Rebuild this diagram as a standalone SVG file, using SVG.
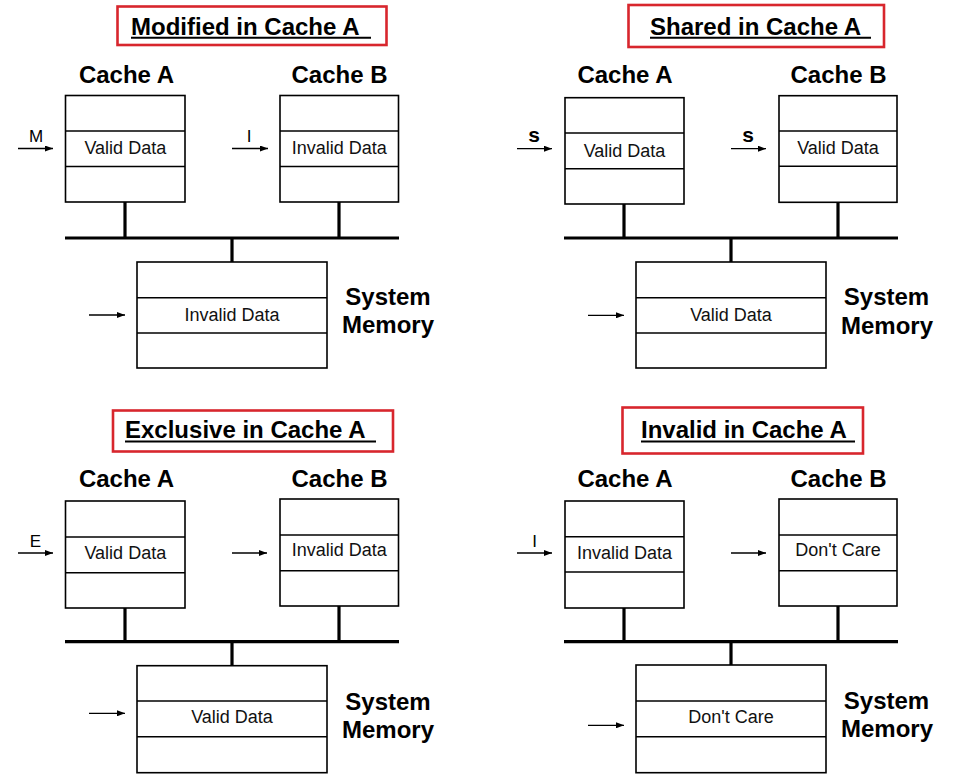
<svg xmlns="http://www.w3.org/2000/svg" width="959" height="780" viewBox="0 0 959 780">
<style>
.bg{fill:#fff}
.box{fill:#fff;stroke:#000;stroke-width:1.6}
.div{stroke:#000;stroke-width:1.6}
.bus{stroke:#000;stroke-width:3.2;fill:none}
.arr{stroke:#000;stroke-width:1.3;fill:none}
.tbox{fill:none;stroke:#d8262d;stroke-width:2.6}
.ul{stroke:#000;stroke-width:2}
.title{font-family:"Liberation Sans",Arial,sans-serif;font-weight:bold;font-size:24px;fill:#000}
.lbl{font-family:"Liberation Sans",Arial,sans-serif;font-weight:bold;font-size:24px;fill:#000;text-anchor:middle}
.data{font-family:"Liberation Sans",Arial,sans-serif;font-size:18px;fill:#111;text-anchor:middle}
.st{font-family:"Liberation Sans",Arial,sans-serif;font-size:17px;fill:#000;text-anchor:middle}
.stb{font-family:"Liberation Sans",Arial,sans-serif;font-weight:bold;font-size:21px;fill:#000;text-anchor:middle}
</style>
<defs>
<marker id="ah" viewBox="0 0 8 6" refX="8" refY="3" markerWidth="8" markerHeight="6" markerUnits="userSpaceOnUse" orient="auto">
<path d="M0,0 L8,3 L0,6 Z" fill="#000"/>
</marker>
</defs>
<rect class="bg" x="0" y="0" width="959" height="780"/>

<!-- Quadrant 1: Modified -->
<g id="title-modified">
<rect class="tbox" x="117.5" y="6.5" width="269" height="38.5"/>
<text class="title" x="131" y="35">Modified in Cache A</text>
<line class="ul" x1="131" y1="37.8" x2="371" y2="37.8"/>
</g>
<g id="q1-cacheA">
<text class="lbl" x="126.5" y="83">Cache A</text>
<rect class="box" x="65.5" y="95.5" width="119.5" height="106.5"/>
<line class="div" x1="65.5" y1="131" x2="185" y2="131"/>
<line class="div" x1="65.5" y1="166.5" x2="185" y2="166.5"/>
<text class="data" x="125.3" y="154">Valid Data</text>
</g>
<g id="q1-cacheB">
<text class="lbl" x="339.5" y="83">Cache B</text>
<rect class="box" x="280" y="95.5" width="118.5" height="106.5"/>
<line class="div" x1="280" y1="131" x2="398.5" y2="131"/>
<line class="div" x1="280" y1="166.5" x2="398.5" y2="166.5"/>
<text class="data" x="339.3" y="154">Invalid Data</text>
</g>
<g id="q1-memory">
<rect class="box" x="137" y="262" width="190" height="106"/>
<line class="div" x1="137" y1="297.7" x2="327" y2="297.7"/>
<line class="div" x1="137" y1="333" x2="327" y2="333"/>
<text class="data" x="232" y="321">Invalid Data</text>
<text class="lbl" x="388" y="305">System</text>
<text class="lbl" x="388" y="333">Memory</text>
</g>
<g id="q1-connectors">
<line class="bus" x1="125" y1="202" x2="125" y2="238"/>
<line class="bus" x1="339" y1="202" x2="339" y2="238"/>
<line class="bus" x1="65" y1="238" x2="399" y2="238"/>
<line class="bus" x1="232" y1="238" x2="232" y2="262"/>
<line class="arr" x1="18" y1="148.5" x2="53" y2="148.5" marker-end="url(#ah)"/>
<text class="st" x="36" y="142">M</text>
<line class="arr" x1="232" y1="148.5" x2="268" y2="148.5" marker-end="url(#ah)"/>
<text class="st" x="249" y="142">I</text>
<line class="arr" x1="89" y1="315" x2="125" y2="315" marker-end="url(#ah)"/>
</g>

<!-- Quadrant 2: Shared -->
<g id="title-shared">
<rect class="tbox" x="628.5" y="5" width="255.5" height="42"/>
<text class="title" x="650" y="35">Shared in Cache A</text>
<line class="ul" x1="650" y1="37.8" x2="871" y2="37.8"/>
</g>
<g id="q2-cacheA">
<text class="lbl" x="625" y="83">Cache A</text>
<rect class="box" x="565" y="97.7" width="119" height="106.3"/>
<line class="div" x1="565" y1="133" x2="684" y2="133"/>
<line class="div" x1="565" y1="168.7" x2="684" y2="168.7"/>
<text class="data" x="624.5" y="157">Valid Data</text>
</g>
<g id="q2-cacheB">
<text class="lbl" x="838.5" y="83">Cache B</text>
<rect class="box" x="779" y="95.7" width="118" height="106.6"/>
<line class="div" x1="779" y1="131" x2="897" y2="131"/>
<line class="div" x1="779" y1="166.3" x2="897" y2="166.3"/>
<text class="data" x="838" y="154">Valid Data</text>
</g>
<g id="q2-memory">
<rect class="box" x="636" y="262" width="190" height="106"/>
<line class="div" x1="636" y1="297.7" x2="826" y2="297.7"/>
<line class="div" x1="636" y1="333" x2="826" y2="333"/>
<text class="data" x="731" y="321">Valid Data</text>
<text class="lbl" x="886.5" y="305">System</text>
<text class="lbl" x="887" y="334">Memory</text>
</g>
<g id="q2-connectors">
<line class="bus" x1="624" y1="204" x2="624" y2="238"/>
<line class="bus" x1="838" y1="202" x2="838" y2="238"/>
<line class="bus" x1="564" y1="238" x2="898" y2="238"/>
<line class="bus" x1="731" y1="238" x2="731" y2="262"/>
<line class="arr" x1="517" y1="148.7" x2="552" y2="148.7" marker-end="url(#ah)"/>
<text class="stb" x="534" y="142">s</text>
<line class="arr" x1="731" y1="148.7" x2="766" y2="148.7" marker-end="url(#ah)"/>
<text class="stb" x="748" y="142">s</text>
<line class="arr" x1="588" y1="315.3" x2="624" y2="315.3" marker-end="url(#ah)"/>
</g>

<!-- Quadrant 3: Exclusive -->
<g id="title-exclusive">
<rect class="tbox" x="113" y="410.5" width="280" height="41"/>
<text class="title" x="125" y="438">Exclusive in Cache A</text>
<line class="ul" x1="125" y1="441.5" x2="376" y2="441.5"/>
</g>
<g id="q3-cacheA">
<text class="lbl" x="126.5" y="487">Cache A</text>
<rect class="box" x="65.5" y="501" width="119.5" height="107"/>
<line class="div" x1="65.5" y1="537" x2="185" y2="537"/>
<line class="div" x1="65.5" y1="572.7" x2="185" y2="572.7"/>
<text class="data" x="125.3" y="559">Valid Data</text>
</g>
<g id="q3-cacheB">
<text class="lbl" x="339.5" y="487">Cache B</text>
<rect class="box" x="280" y="499" width="118.5" height="107"/>
<line class="div" x1="280" y1="535" x2="398.5" y2="535"/>
<line class="div" x1="280" y1="570.7" x2="398.5" y2="570.7"/>
<text class="data" x="339.3" y="556">Invalid Data</text>
</g>
<g id="q3-memory">
<rect class="box" x="137" y="665.7" width="190" height="107"/>
<line class="div" x1="137" y1="701" x2="327" y2="701"/>
<line class="div" x1="137" y1="736.7" x2="327" y2="736.7"/>
<text class="data" x="232" y="723">Valid Data</text>
<text class="lbl" x="388" y="710">System</text>
<text class="lbl" x="388" y="738">Memory</text>
</g>
<g id="q3-connectors">
<line class="bus" x1="125" y1="608" x2="125" y2="641.7"/>
<line class="bus" x1="339" y1="606" x2="339" y2="641.7"/>
<line class="bus" x1="65" y1="641.7" x2="399" y2="641.7"/>
<line class="bus" x1="232" y1="641.7" x2="232" y2="665.7"/>
<line class="arr" x1="18" y1="553" x2="53" y2="553" marker-end="url(#ah)"/>
<text class="st" x="35.5" y="547">E</text>
<line class="arr" x1="232" y1="553" x2="267" y2="553" marker-end="url(#ah)"/>
<line class="arr" x1="89" y1="713.3" x2="125" y2="713.3" marker-end="url(#ah)"/>
</g>

<!-- Quadrant 4: Invalid -->
<g id="title-invalid">
<rect class="tbox" x="622.5" y="407.5" width="240.5" height="46"/>
<text class="title" x="641" y="438">Invalid in Cache A</text>
<line class="ul" x1="641" y1="441.5" x2="855" y2="441.5"/>
</g>
<g id="q4-cacheA">
<text class="lbl" x="625" y="486.7">Cache A</text>
<rect class="box" x="565" y="501" width="119" height="107"/>
<line class="div" x1="565" y1="536.7" x2="684" y2="536.7"/>
<line class="div" x1="565" y1="572" x2="684" y2="572"/>
<text class="data" x="624.5" y="559">Invalid Data</text>
</g>
<g id="q4-cacheB">
<text class="lbl" x="838.5" y="486.7">Cache B</text>
<rect class="box" x="779" y="499" width="118" height="107"/>
<line class="div" x1="779" y1="535" x2="897" y2="535"/>
<line class="div" x1="779" y1="570.7" x2="897" y2="570.7"/>
<text class="data" x="838" y="556">Don't Care</text>
</g>
<g id="q4-memory">
<rect class="box" x="636" y="665" width="190" height="107.7"/>
<line class="div" x1="636" y1="701" x2="826" y2="701"/>
<line class="div" x1="636" y1="736.7" x2="826" y2="736.7"/>
<text class="data" x="731" y="723">Don't Care</text>
<text class="lbl" x="886.5" y="709">System</text>
<text class="lbl" x="887" y="737">Memory</text>
</g>
<g id="q4-connectors">
<line class="bus" x1="624" y1="608" x2="624" y2="641.7"/>
<line class="bus" x1="838" y1="606" x2="838" y2="641.7"/>
<line class="bus" x1="564" y1="641.7" x2="898" y2="641.7"/>
<line class="bus" x1="731" y1="641.7" x2="731" y2="665"/>
<line class="arr" x1="517" y1="553" x2="552" y2="553" marker-end="url(#ah)"/>
<text class="st" x="534.7" y="547">I</text>
<line class="arr" x1="731" y1="553" x2="766" y2="553" marker-end="url(#ah)"/>
<line class="arr" x1="588" y1="725.3" x2="624" y2="725.3" marker-end="url(#ah)"/>
</g>
</svg>
